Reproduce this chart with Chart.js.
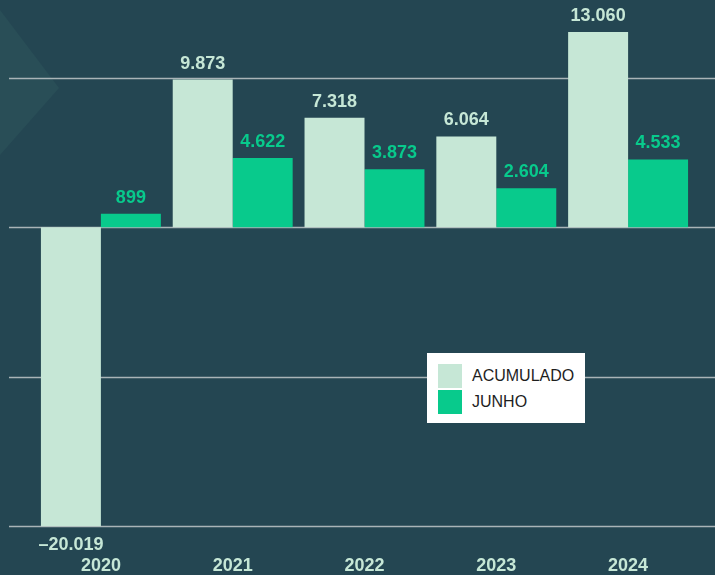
<!DOCTYPE html>
<html>
<head>
<meta charset="utf-8">
<script src="https://cdn.jsdelivr.net/npm/chart.js@4.4.1/dist/chart.umd.min.js"></script>
<style>
  body { margin: 0; background: #244652; }
  #wrap { position: relative; width: 715px; height: 575px; }
  #legend {
    position: absolute; left: 427px; top: 353px; width: 158px; height: 70px;
    background: #ffffff; box-sizing: border-box; padding: 10px 0 0 11px;
    font-family: "Liberation Sans", Arial, sans-serif; font-size: 16px; color: #1e1e1e;
  }
  #legend .item { display: flex; align-items: center; height: 26px; }
  #legend .box { width: 24px; height: 24px; margin-right: 10px; }
</style>
</head>
<body>
<div id="wrap">
  <canvas id="chart" width="715" height="575"></canvas>
  <div id="legend"></div>
</div>
<script>
// chart data
const years = ["2020", "2021", "2022", "2023", "2024"];
const acumulado = [-20019, 9873, 7318, 6064, 13060];
const junho = [899, 4622, 3873, 2604, 4533];
const gridValues = [-20000, -10000, 0, 10000];

const colors = {
  acum: "#c6e7d6",
  junho: "#08ca8c",
  bg: "#244652",
  chevron: "#294e57",
  grid: "#a9b4b7",
};

// 13060 -> "13.060", negatives with en dash
function fmt(v) {
  const s = Math.abs(v).toString().replace(/\B(?=(\d{3})+(?!\d))/g, ".");
  return (v < 0 ? "\u2013" : "") + s;
}

const backgroundPlugin = {
  id: "background",
  beforeDraw(chart) {
    const c = chart.ctx;
    c.save();
    c.fillStyle = colors.bg;
    c.fillRect(0, 0, chart.width, chart.height);
    // faint chevron top-left
    c.fillStyle = colors.chevron;
    c.beginPath();
    c.moveTo(0, 10);
    c.lineTo(59, 88);
    c.lineTo(0, 155);
    c.closePath();
    c.fill();
    // horizontal grid lines across full width
    const y = chart.scales.y;
    c.strokeStyle = colors.grid;
    c.lineWidth = 1.3;
    gridValues.forEach((v) => {
      const py = Math.round(y.getPixelForValue(v)) + 0.5;
      c.beginPath();
      c.moveTo(9, py);
      c.lineTo(chart.width, py);
      c.stroke();
    });
    c.restore();
  },
};

const valueLabels = {
  id: "valueLabels",
  afterDatasetsDraw(chart) {
    const c = chart.ctx;
    c.save();
    c.font = "bold 18px 'Liberation Sans', Arial, sans-serif";
    c.textAlign = "center";
    c.textBaseline = "middle";
    chart.data.datasets.forEach((ds, i) => {
      const meta = chart.getDatasetMeta(i);
      c.fillStyle = ds.labelColor;
      meta.data.forEach((bar, j) => {
        const v = ds.data[j];
        const py = v >= 0 ? bar.y - 16 : bar.y + 19;
        c.fillText(fmt(v), bar.x, py);
      });
    });
    c.restore();
  },
};

const chart = new Chart(document.getElementById("chart"), {
  type: "bar",
  data: {
    labels: years,
    datasets: [
      {
        label: "ACUMULADO",
        data: acumulado,
        backgroundColor: colors.acum,
        labelColor: colors.acum,
        categoryPercentage: 0.91,
        barPercentage: 1,
        clip: false,
      },
      {
        label: "JUNHO",
        data: junho,
        backgroundColor: colors.junho,
        labelColor: colors.junho,
        categoryPercentage: 0.91,
        barPercentage: 1,
        clip: false,
      },
    ],
  },
  options: {
    responsive: false,
    animation: false,
    layout: {
      padding: { left: 35, right: 21, top: 3, bottom: 0 },
    },
    plugins: {
      legend: { display: false },
      tooltip: { enabled: false },
    },
    scales: {
      x: {
        grid: { display: false, drawTicks: false },
        border: { display: false },
        afterFit(scale) {
          scale.height = 49;
        },
        ticks: {
          color: colors.acum,
          padding: 31,
          font: {
            family: "'Liberation Sans', Arial, sans-serif",
            size: 18,
            weight: "bold",
            lineHeight: 1,
          },
        },
      },
      y: {
        display: false,
        min: -20000,
        max: 15000,
      },
    },
  },
  plugins: [backgroundPlugin, valueLabels],
});

// html legend placed inside the plot
const legendEl = document.getElementById("legend");
chart.data.datasets.forEach((ds) => {
  const item = document.createElement("div");
  item.className = "item";
  const box = document.createElement("span");
  box.className = "box";
  box.style.background = ds.backgroundColor;
  const txt = document.createElement("span");
  txt.textContent = ds.label;
  item.appendChild(box);
  item.appendChild(txt);
  legendEl.appendChild(item);
});
</script>
</body>
</html>
